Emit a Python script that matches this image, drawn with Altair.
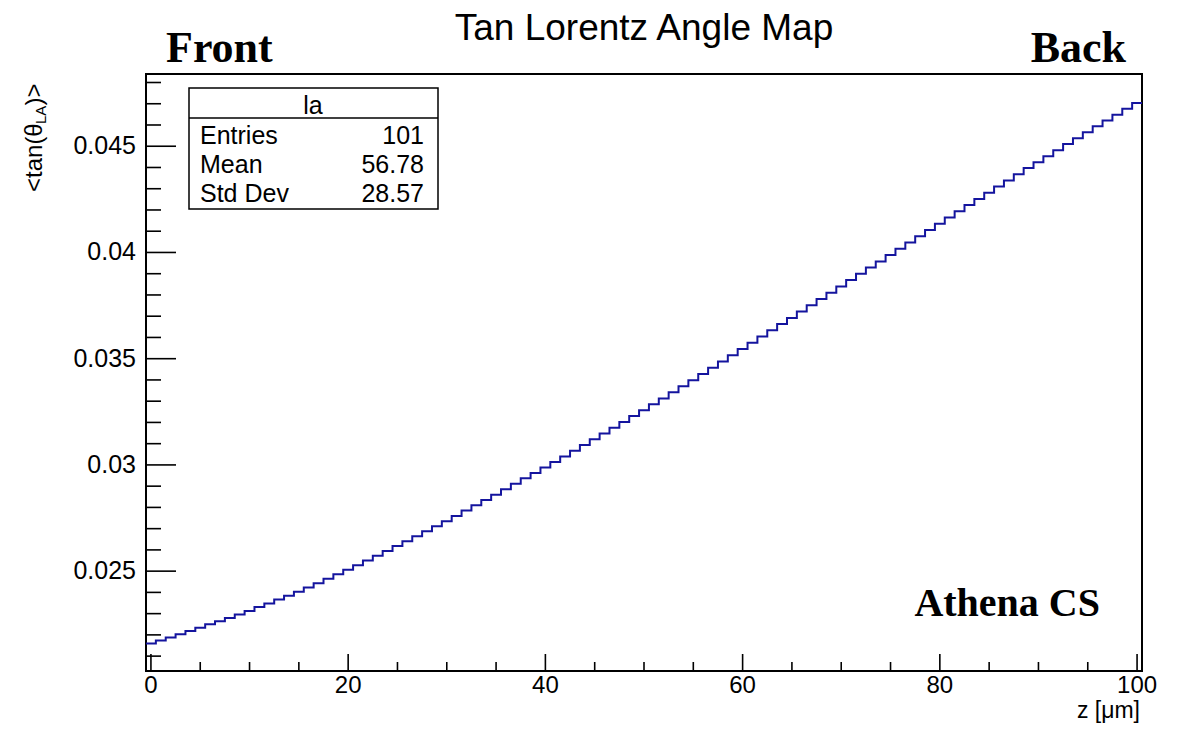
import altair as alt
import pandas as pd

# ---------------- data ----------------
z_bins = list(range(101))
tan_la = [
    0.02159, 0.02173, 0.02188, 0.02203, 0.02218, 0.02234, 0.02250, 0.02264, 0.02279, 0.02296,
    0.02313, 0.02331, 0.02348, 0.02366, 0.02384, 0.02403, 0.02423, 0.02443, 0.02464, 0.02485,
    0.02506, 0.02528, 0.02550, 0.02572, 0.02595, 0.02618, 0.02641, 0.02664, 0.02688, 0.02711,
    0.02735, 0.02760, 0.02785, 0.02810, 0.02835, 0.02860, 0.02886, 0.02911, 0.02937, 0.02962,
    0.02988, 0.03014, 0.03040, 0.03067, 0.03094, 0.03121, 0.03148, 0.03175, 0.03202, 0.03230,
    0.03257, 0.03285, 0.03313, 0.03342, 0.03370, 0.03399, 0.03428, 0.03457, 0.03487, 0.03516,
    0.03546, 0.03575, 0.03604, 0.03634, 0.03663, 0.03692, 0.03722, 0.03751, 0.03781, 0.03810,
    0.03840, 0.03870, 0.03900, 0.03929, 0.03958, 0.03988, 0.04017, 0.04047, 0.04076, 0.04106,
    0.04135, 0.04165, 0.04194, 0.04223, 0.04252, 0.04281, 0.04310, 0.04339, 0.04368, 0.04397,
    0.04425, 0.04453, 0.04481, 0.04510, 0.04538, 0.04566, 0.04594, 0.04621, 0.04648, 0.04676,
    0.04703,
]
x_major = [0, 20, 40, 60, 80, 100]
x_minor = [5, 10, 15, 25, 30, 35, 45, 50, 55, 65, 70, 75, 85, 90, 95]
y_major = [0.025, 0.03, 0.035, 0.04, 0.045]
y_minor = [0.021, 0.022, 0.023, 0.024, 0.026, 0.027, 0.028, 0.029, 0.031, 0.032, 0.033,
           0.034, 0.036, 0.037, 0.038, 0.039, 0.041, 0.042, 0.043, 0.044, 0.046, 0.047, 0.048]
stat_names = ["Entries", "Mean", "Std Dev"]
stat_values = ["101", "56.78", "28.57"]
hist_name = "la"
chart_title = "Tan Lorentz Angle Map"
x_title = "z [\u03bcm]"

# ---------------- style ----------------
W, H = 996, 597
BLUE = "#14149e"
SANS = "Liberation Sans"
SERIF = "Liberation Serif"

edges = [z - 0.5 for z in z_bins] + [z_bins[-1] + 0.5]
vals = tan_la + [tan_la[-1]]
hist = pd.DataFrame({"edge": edges, "val": vals})

xs = alt.Scale(domain=[-0.5, 100.5], nice=False, zero=False)
ys = alt.Scale(domain=[0.0203, 0.0484], nice=False, zero=False)

line = alt.Chart(hist).mark_line(
    interpolate="step-after", color=BLUE, strokeWidth=2
).encode(
    x=alt.X("edge:Q", scale=xs, axis=None),
    y=alt.Y("val:Q", scale=ys, axis=None),
)


def ticks_x(v, length):
    return alt.Chart(pd.DataFrame({"t": v})).mark_rule(color="black", strokeWidth=1.6).encode(
        x=alt.X("t:Q", scale=xs, axis=None), y=alt.value(H), y2=alt.value(H - length))


def ticks_y(v, length):
    return alt.Chart(pd.DataFrame({"t": v})).mark_rule(color="black", strokeWidth=1.6).encode(
        y=alt.Y("t:Q", scale=ys, axis=None), x=alt.value(0), x2=alt.value(length))


x_labels = alt.Chart(pd.DataFrame({"t": x_major})).mark_text(
    font=SANS, fontSize=24, color="black", align="center", baseline="alphabetic"
).encode(
    x=alt.X("t:Q", scale=xs, axis=None), y=alt.value(H + 22),
    text=alt.Text("t:Q", format="d"))

y_labels = alt.Chart(pd.DataFrame({"t": y_major})).mark_text(
    font=SANS, fontSize=25, color="black", align="right", baseline="middle"
).encode(
    y=alt.Y("t:Q", scale=ys, axis=None), x=alt.value(-10),
    text=alt.Text("t:Q", format=".3~f"))

ONE = alt.Data(values=[{}])


def label(text, x, y, size, font=SANS, weight="normal", align="left", angle=0):
    return alt.Chart(ONE).mark_text(
        text=text, font=font, fontSize=size, fontWeight=weight, align=align,
        baseline="alphabetic", angle=angle, color="black"
    ).encode(x=alt.value(x), y=alt.value(y))


box = alt.Chart(ONE).mark_rect(fill="white", stroke="black", strokeWidth=1.5).encode(
    x=alt.value(43), x2=alt.value(292), y=alt.value(14), y2=alt.value(135))
sep = alt.Chart(ONE).mark_rule(color="black", strokeWidth=1.5).encode(
    x=alt.value(43), x2=alt.value(292), y=alt.value(44))

texts = [
    label(chart_title, 498, -34, 37, align="center"),
    label("Front", 20, -12, 44, font=SERIF, weight="bold"),
    label("Back", 980, -12, 44, font=SERIF, weight="bold", align="right"),
    label("Athena CS", 954, H - 55, 40, font=SERIF, weight="bold", align="right"),
    label(x_title, 994, H + 47, 23, align="right"),
    label("<tan(\u03b8", -104.5, 118, 24, angle=270),
    label("LA", -100.5, 50, 15, angle=270),
    label(")>", -104.5, 31.5, 24, angle=270),
    label(hist_name, 167, 40, 25, align="center"),
]
for i, (n, v) in enumerate(zip(stat_names, stat_values)):
    texts.append(label(n, 54, 70 + 29 * i, 25))
    texts.append(label(v, 278, 70 + 29 * i, 25, align="right"))

chart = alt.layer(
    line,
    ticks_x(x_major, 17), ticks_x(x_minor, 9),
    ticks_y(y_major, 30), ticks_y(y_minor, 15),
    x_labels, y_labels,
    box, sep, *texts
).properties(
    width=W, height=H,
    padding={"left": 138, "top": 66, "right": 28, "bottom": 53},
    autosize=alt.AutoSizeParams(type="none"),
).configure_view(stroke="black", strokeWidth=2)

chart.save("out.html", embed_options={"renderer": "svg", "actions": False})
